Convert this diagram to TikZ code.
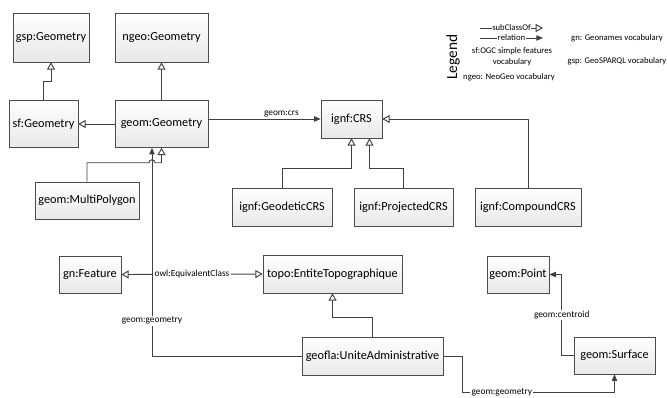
\documentclass[tikz,border=0pt]{standalone}
\usepackage{fontspec}
\setmainfont{Carlito}
\usetikzlibrary{arrows.meta,calc,positioning}

\newcommand{\px}{0.75pt}

\begin{document}
\begin{tikzpicture}[
x=0.75pt,y=-0.75pt,
MyClass/.style={draw=black!70,top color=white,bottom color=black!9,inner sep=0pt,font=\fontsize{9.2}{11}\selectfont},
SubClass/.style={draw=black!75,line width=0.7pt,-{Triangle[open,length=5.5pt,width=6pt]}},
Relation/.style={draw=black!75,line width=0.7pt,-{Triangle[length=5pt,width=4pt]}},
EdgeLabel/.style={fill=white,inner sep=1pt,font=\fontsize{7}{8}\selectfont},
LegendText/.style={font=\fontsize{6.5}{8}\selectfont,align=center}
]
\useasboundingbox (0,0) rectangle (667,397);

% classes
\node[MyClass,minimum width=76*\px,minimum height=49*\px] (gsp) at (51,37.5) {gsp:Geometry};
\node[MyClass,minimum width=93*\px,minimum height=49*\px] (ngeo) at (161.5,37.5) {ngeo:Geometry};
\node[MyClass,minimum width=69*\px,minimum height=47*\px] (sf) at (43.5,124) {sf:Geometry};
\node[MyClass,minimum width=93*\px,minimum height=47*\px] (geom) at (161.5,124) {geom:Geometry};
\node[MyClass,minimum width=61*\px,minimum height=38*\px] (crs) at (351.5,119) {ignf:CRS};
\node[MyClass,minimum width=104*\px,minimum height=37*\px] (multi) at (87,200.5) {geom:MultiPolygon};
\node[MyClass,minimum width=100*\px,minimum height=38*\px] (geodetic) at (282,207) {ignf:GeodeticCRS};
\node[MyClass,minimum width=99*\px,minimum height=38*\px] (projected) at (403.5,207) {ignf:ProjectedCRS};
\node[MyClass,minimum width=106*\px,minimum height=38*\px] (compound) at (528,207) {ignf:CompoundCRS};
\node[MyClass,minimum width=62*\px,minimum height=37*\px] (feature) at (90,274.5) {gn:Feature};
\node[MyClass,minimum width=139*\px,minimum height=38*\px] (topo) at (332.5,274) {topo:EntiteTopographique};
\node[MyClass,minimum width=62*\px,minimum height=37*\px] (point) at (518,274.5) {geom:Point};
\node[MyClass,minimum width=141*\px,minimum height=38*\px] (geofla) at (372.5,356) {geofla:UniteAdministrative};
\node[MyClass,minimum width=81*\px,minimum height=37*\px] (surface) at (614.5,355.5) {geom:Surface};

% subclass links
\draw[SubClass] (sf.north) -- ++(0,-19) -| (gsp.south);
\draw[SubClass] (geom.north) -- (ngeo.south);
\draw[SubClass] (geom.west) -- (sf.east);
\draw[SubClass] (geodetic.north) -- ++(0,-19) -| (crs.south);
\draw[SubClass] (projected.north) -- ++(0,-19) -| ($(crs.south)+(18,0)$);
\draw[SubClass] (compound.north) |- (crs.east);
\draw[SubClass] (geofla.north) -- ++(0,-19) -| (topo.south);

% geom:geometry (left) and the hop over it
\coordinate (geomline) at ($(geom.south)+(-9.5,0)$);
\draw[Relation] (geofla.west) -| node[EdgeLabel,pos=0.585]{geom:geometry} (geomline);
\draw[SubClass] (multi.north) -- ++(0,-19) coordinate (mpc)
  -- ($(mpc -| geomline)+(-3,0)$) arc[start angle=180,end angle=0,radius=2.25pt] -| (geom.south);

% relations
\draw[Relation] (geom.east |- crs.west) -- node[EdgeLabel,above,fill=none,pos=0.65]{geom:crs} (crs.west);
\draw[SubClass,{Triangle[open,length=5.5pt,width=6pt]}-{Triangle[open,length=5.5pt,width=6pt]}] (feature.east) -- node[EdgeLabel]{owl:EquivalentClass} (topo.west);
\draw[Relation] (surface.west) -- ++(-12,0) |- node[EdgeLabel,pos=0.25]{geom:centroid} (point.east);
\coordinate (low) at ($(surface.south)+(0,18)$);
\draw[Relation] (geofla.east) -- ++(19,0) |- node[EdgeLabel,pos=0.63]{geom:geometry} (low) -- (surface.south);

% legend
\node[rotate=90,font=\fontsize{11.5}{13}\selectfont] (legend) at (453,57) {Legend};
\coordinate (subA) at (480,28);
\coordinate (subB) at (543,28);
\coordinate (relA) at (480,38);
\coordinate (relB) at (543,38);
\draw[SubClass] (subA) -- node[EdgeLabel,font=\fontsize{6.5}{8}\selectfont,inner sep=0.5pt]{subClassOf} (subB);
\draw[Relation] (relA) -- node[EdgeLabel,font=\fontsize{6.5}{8}\selectfont,inner sep=0.5pt]{relation} (relB);
\node[LegendText] (sfvoc) at (512,56.5) {sf:OGC simple features\\vocabulary};
\node[LegendText] (ngeovoc) at (509,77) {ngeo: NeoGeo vocabulary};
\node[LegendText] (gnvoc) at (617,38) {gn: Geonames vocabulary};
\node[LegendText] (gspvoc) at (617,61) {gsp: GeoSPARQL vocabulary};

\end{tikzpicture}
\end{document}
